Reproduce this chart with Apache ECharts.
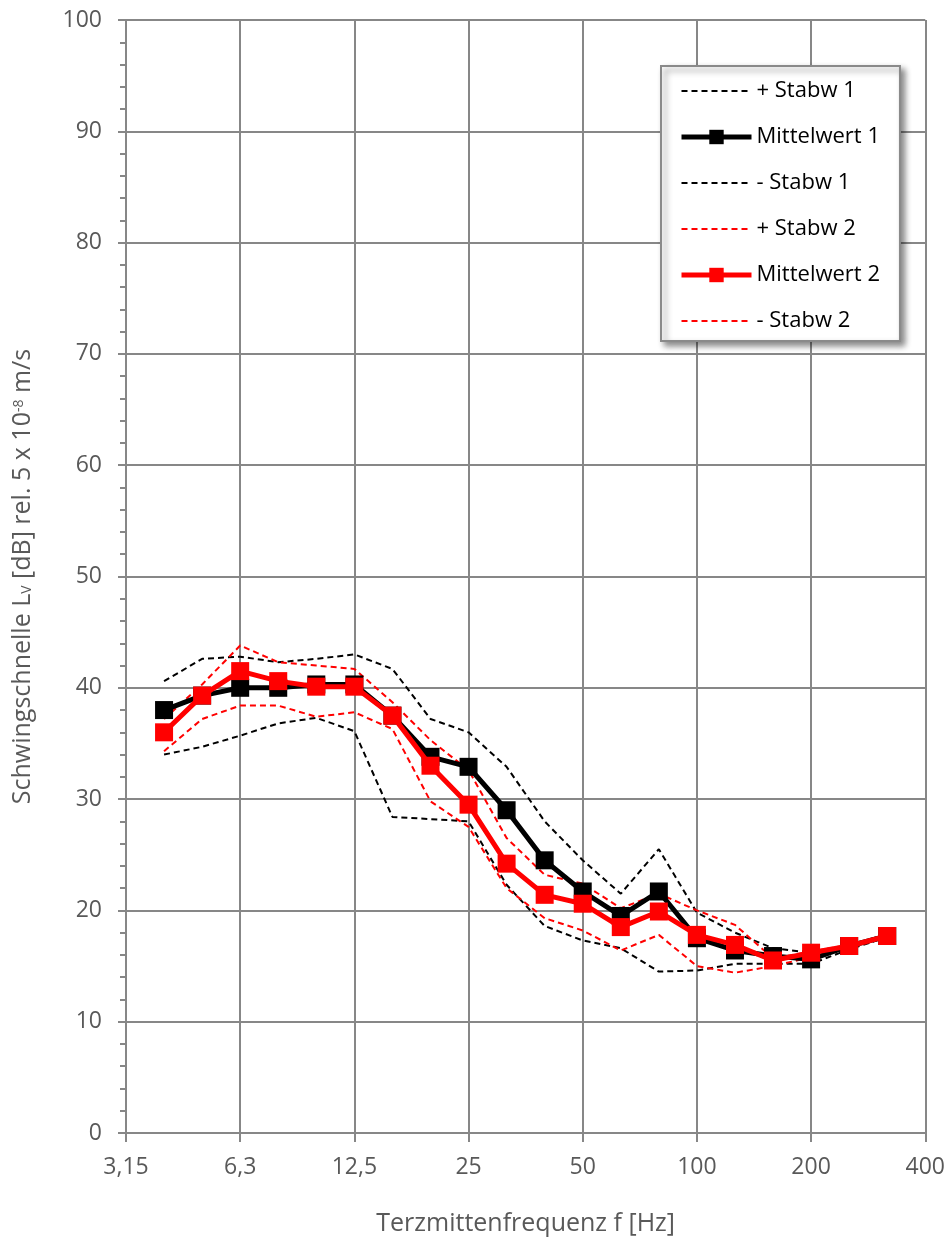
<!DOCTYPE html>
<html>
<head>
<meta charset="utf-8">
<script src="https://cdn.jsdelivr.net/npm/echarts@6/dist/echarts.min.js"></script>
<style>
html,body{margin:0;padding:0;background:#fff;}
#chart{width:948px;height:1241px;}
</style>
</head>
<body>
<div id="chart"></div>
<script>
// Third-octave centre frequencies (Hz) shown on the x axis
const freqLabels = ['3,15','4','5','6,3','8','10','12,5','16','20','25','31,5','40','50','63','80','100','125','160','200','250','315','400'];

// Values in dB (null = no measurement at that band)
const plusStabw1  = [null, 40.6, 42.6, 42.8, 42.3, 42.6, 43.0, 41.7, 37.2, 36.0, 32.9, 28.0, 24.5, 21.5, 25.5, 19.8, 18.0, 16.6, 16.2, 16.8, 17.9, null];
const mittelwert1 = [null, 38.0, 39.3, 40.0, 40.0, 40.3, 40.3, 37.5, 33.8, 32.9, 29.0, 24.5, 21.7, 19.5, 21.7, 17.5, 16.4, 15.9, 15.6, 16.8, 17.7, null];
const minusStabw1 = [null, 34.0, 34.7, 35.7, 36.8, 37.3, 36.1, 28.4, 28.2, 28.0, 22.3, 18.6, 17.3, 16.6, 14.5, 14.6, 15.2, 15.2, 15.2, 16.5, 17.6, null];
const plusStabw2  = [null, 37.2, 40.3, 43.8, 42.3, 42.0, 41.7, 38.7, 35.3, 32.6, 26.5, 23.2, 22.4, 20.2, 21.5, 20.0, 18.7, 15.7, 16.3, 16.9, 17.8, null];
const mittelwert2 = [null, 36.0, 39.3, 41.5, 40.6, 40.1, 40.1, 37.5, 33.0, 29.5, 24.2, 21.4, 20.6, 18.5, 19.9, 17.8, 16.9, 15.5, 16.2, 16.8, 17.7, null];
const minusStabw2 = [null, 34.3, 37.2, 38.4, 38.4, 37.4, 37.8, 36.3, 29.8, 27.5, 22.0, 19.3, 18.2, 16.4, 17.8, 15.0, 14.4, 15.0, 15.8, 16.6, 17.6, null];

const seriesNames = ['+ Stabw 1', 'Mittelwert 1', '- Stabw 1', '+ Stabw 2', 'Mittelwert 2', '- Stabw 2'];

const axisGray = '#878787';
const textGray = '#595959';
const FONT = '"Open Sans", "Noto Sans", sans-serif';
const every3 = (i) => i % 3 === 0;

function dashed(name, data, color) {
  return {
    name: name, type: 'line', data: data, symbol: 'none', z: 2,
    lineStyle: { color: color, width: 2, type: [6, 4] },
    itemStyle: { color: 'rgba(0,0,0,0)' }
  };
}
function mean(name, data, color, z) {
  return {
    name: name, type: 'line', data: data, symbol: 'rect', symbolSize: 18, z: z,
    lineStyle: { color: color, width: 5 },
    itemStyle: { color: color }
  };
}

const legendData = seriesNames.map((n, i) => (i % 3 === 1)
  ? { name: n, lineStyle: { width: 5 } }
  : { name: n, lineStyle: { width: 2 } });

const chart = echarts.init(document.getElementById('chart'), null, { renderer: 'canvas' });
chart.setOption({
  animation: false,
  backgroundColor: '#ffffff',
  textStyle: { fontFamily: FONT },
  grid: { left: 123, right: 22, top: 20, bottom: 106, containLabel: false },
  legend: {
    data: legendData,
    orient: 'vertical',
    left: 661, top: 66,
    itemWidth: 70, itemHeight: 18, itemGap: 24,
    padding: [14, 20, 9, 18],
    backgroundColor: '#ffffff',
    borderColor: '#8a8a8a', borderWidth: 2,
    shadowColor: 'rgba(0,0,0,0.45)', shadowBlur: 6, shadowOffsetX: 4, shadowOffsetY: 4,
    textStyle: { fontFamily: FONT, fontSize: 22, color: '#000' }
  },
  xAxis: {
    type: 'category',
    data: freqLabels,
    boundaryGap: false,
    name: 'Terzmittenfrequenz f [Hz]',
    nameLocation: 'middle',
    nameGap: 78,
    nameTextStyle: { fontFamily: FONT, fontSize: 25, color: textGray },
    axisLine: { show: true, lineStyle: { color: axisGray, width: 2 } },
    axisTick: { show: true, interval: every3, length: 9, lineStyle: { color: axisGray, width: 2 } },
    axisLabel: { interval: every3, margin: 23, fontFamily: FONT, fontSize: 23, color: textGray },
    splitLine: { show: true, interval: every3, lineStyle: { color: axisGray, width: 2 } }
  },
  yAxis: {
    type: 'value',
    min: 0, max: 100, interval: 10,
    name: '{a|Schwingschnelle L}{sub|V}{a| [dB] rel. 5 x 10}{sup|-8}{a| m/s}',
    nameLocation: 'middle',
    nameGap: 88,
    nameRotate: 90,
    nameTextStyle: {
      fontFamily: FONT, fontSize: 25, color: textGray,
      rich: {
        a: { fontFamily: FONT, fontSize: 25, color: textGray, lineHeight: 30, verticalAlign: 'middle' },
        sub: { fontFamily: FONT, fontSize: 14, color: textGray, lineHeight: 30, verticalAlign: 'bottom', padding: [0, 0, 4, 0] },
        sup: { fontFamily: FONT, fontSize: 14, color: textGray, lineHeight: 30, verticalAlign: 'top', padding: [4, 0, 0, 0] }
      }
    },
    axisLine: { show: true, lineStyle: { color: axisGray, width: 2 } },
    axisTick: { show: true, length: 8, lineStyle: { color: axisGray, width: 2 } },
    minorTick: { show: true, splitNumber: 5, length: 6, lineStyle: { color: axisGray, width: 2 } },
    axisLabel: { margin: 24, fontFamily: FONT, fontSize: 23, color: textGray },
    splitLine: { show: true, lineStyle: { color: axisGray, width: 2 } }
  },
  series: [
    dashed(seriesNames[0], plusStabw1, '#000000'),
    mean(seriesNames[1], mittelwert1, '#000000', 3),
    dashed(seriesNames[2], minusStabw1, '#000000'),
    dashed(seriesNames[3], plusStabw2, '#ff0000'),
    mean(seriesNames[4], mittelwert2, '#ff0000', 4),
    dashed(seriesNames[5], minusStabw2, '#ff0000')
  ]
});
</script>
</body>
</html>
